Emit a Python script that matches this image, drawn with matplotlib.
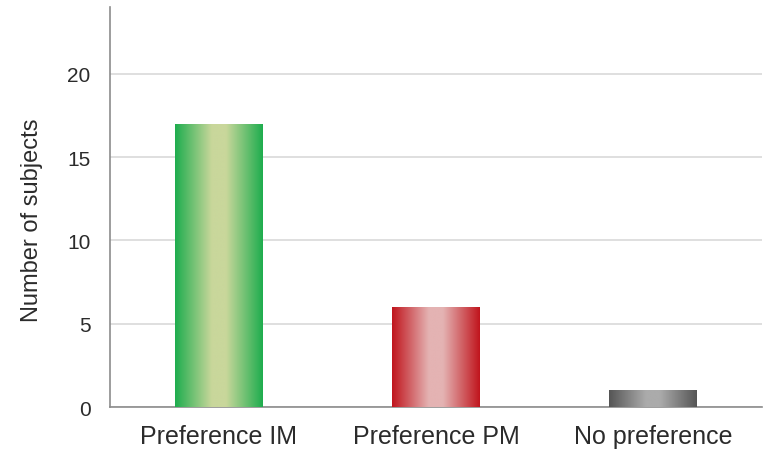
import numpy as np
import matplotlib
matplotlib.use("Agg")
import matplotlib.pyplot as plt
from matplotlib.colors import LinearSegmentedColormap

categories = ["Preference IM", "Preference PM", "No preference"]
subjects = [17, 6, 1]
edge_colors = ["#1ead4e", "#c0151d", "#555555"]
center_colors = ["#c9d79b", "#e4b3b3", "#ababab"]

y_ticks = [0, 5, 10, 15, 20]

plt.rcParams["font.family"] = ["Liberation Sans", "DejaVu Sans"]

fig = plt.figure(figsize=(7.65, 4.52), dpi=100)
ax = fig.add_axes([0.1438, 0.0973, 0.852, 0.885])

x = np.arange(len(categories))
bars = ax.bar(x, subjects, width=0.405, color="none", zorder=3)

# horizontal shading: dark at the sides, light in the middle
grad = np.linspace(0, 1, 256)[None, :]
for bar, ec, cc in zip(bars, edge_colors, center_colors):
    cmap = LinearSegmentedColormap.from_list(
        "shade", [(0.0, ec), (0.42, cc), (0.58, cc), (1.0, ec)], N=256)
    x0, y0 = bar.get_x(), bar.get_y()
    w, h = bar.get_width(), bar.get_height()
    im = ax.imshow(grad, cmap=cmap, aspect="auto", extent=[x0, x0 + w, y0, y0 + h],
                   interpolation="bilinear", zorder=3)
    im.set_clip_path(bar)

ax.set_xlim(-0.5, len(categories) - 0.5)
ax.set_ylim(0, 24)
ax.set_yticks(y_ticks)
ax.set_xticks(x)
ax.set_xticklabels(categories, fontsize=18, color="#2b2b2b")
ax.tick_params(axis="y", labelsize=15, colors="#2b2b2b", length=0, pad=14)
ax.tick_params(axis="x", length=0, pad=12)

ax.yaxis.grid(True, color="#d9d9d9", linewidth=1.2, zorder=0)
ax.set_axisbelow(True)

for side in ["top", "right"]:
    ax.spines[side].set_visible(False)
for side in ["left", "bottom"]:
    ax.spines[side].set_color("#8c8c8c")
    ax.spines[side].set_linewidth(1.2)

ax.set_ylabel("Number of subjects", fontsize=17, color="#2b2b2b")
ax.yaxis.set_label_coords(-0.103, 0.47)

fig.savefig("out.png", dpi=100)
